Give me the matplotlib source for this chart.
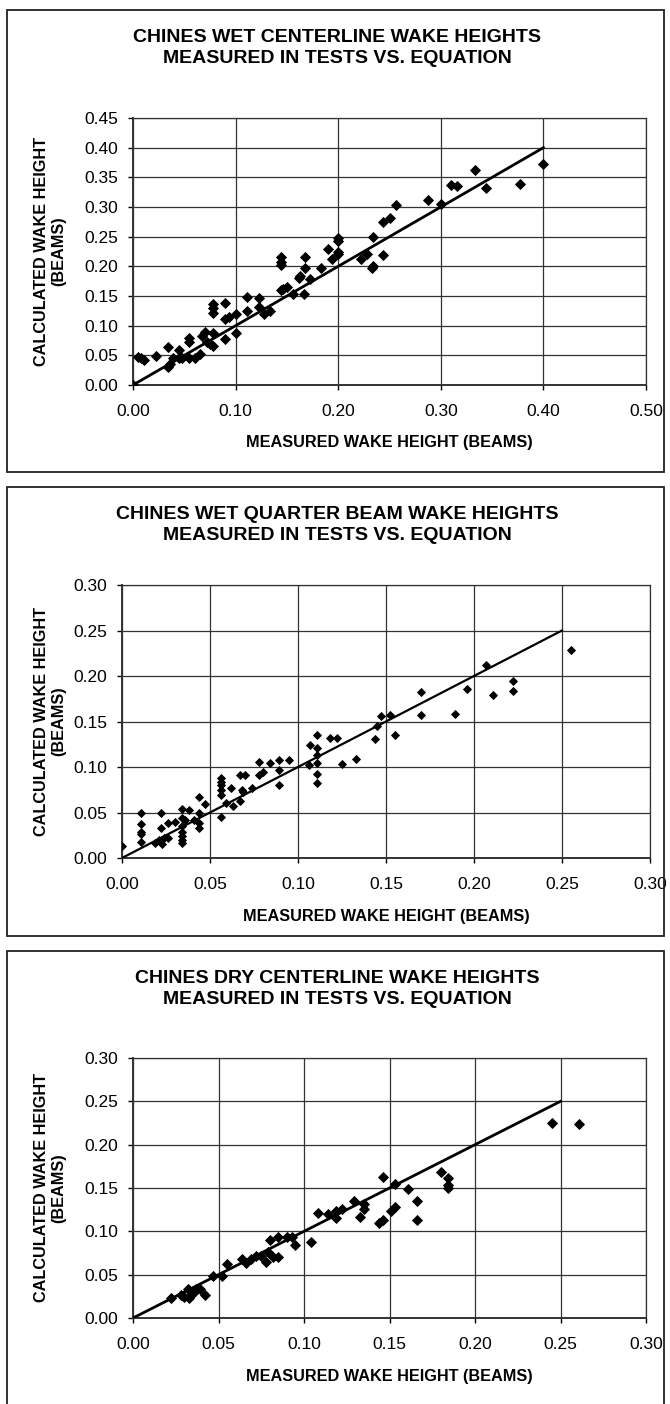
import matplotlib.pyplot as plt
from matplotlib.patches import Rectangle

plt.rcParams['font.family'] = ['Liberation Sans', 'DejaVu Sans']

# chines wet, centerline
wet_cl_x = [0.0, 0.005, 0.008, 0.011, 0.022, 0.034, 0.034, 0.036, 0.039, 0.045, 0.045,
            0.048, 0.055, 0.055, 0.055, 0.06, 0.065, 0.067, 0.07, 0.072, 0.075, 0.078,
            0.078, 0.078, 0.078, 0.078, 0.09, 0.09, 0.09, 0.094, 0.1, 0.1, 0.111, 0.111,
            0.123, 0.123, 0.128, 0.134, 0.144, 0.144, 0.144, 0.144, 0.146, 0.15, 0.156,
            0.162, 0.163, 0.167, 0.168, 0.168, 0.173, 0.183, 0.19, 0.194, 0.2, 0.2, 0.2,
            0.2, 0.222, 0.228, 0.233, 0.234, 0.234, 0.244, 0.244, 0.25, 0.256, 0.288,
            0.3, 0.31, 0.316, 0.333, 0.344, 0.377, 0.4]
wet_cl_y = [0.0, 0.048, 0.046, 0.042, 0.049, 0.064, 0.031, 0.035, 0.045, 0.059, 0.045,
            0.045, 0.045, 0.073, 0.079, 0.045, 0.053, 0.082, 0.089, 0.073, 0.069, 0.066,
            0.087, 0.129, 0.136, 0.122, 0.078, 0.139, 0.112, 0.114, 0.119, 0.087, 0.124,
            0.149, 0.147, 0.132, 0.119, 0.124, 0.16, 0.202, 0.208, 0.215, 0.162, 0.166,
            0.153, 0.18, 0.183, 0.153, 0.198, 0.215, 0.179, 0.197, 0.229, 0.213, 0.221,
            0.225, 0.242, 0.247, 0.213, 0.22, 0.197, 0.2, 0.25, 0.219, 0.274, 0.282,
            0.304, 0.311, 0.305, 0.337, 0.335, 0.362, 0.332, 0.339, 0.373]

# chines wet, quarter beam
wet_qb_x = [0.0, 0.011, 0.011, 0.011, 0.011, 0.011, 0.019, 0.021, 0.022, 0.022, 0.023,
            0.024, 0.026, 0.026, 0.03, 0.034, 0.034, 0.034, 0.034, 0.034, 0.034, 0.034,
            0.036, 0.038, 0.041, 0.044, 0.044, 0.044, 0.044, 0.047, 0.056, 0.056, 0.056,
            0.056, 0.056, 0.056, 0.059, 0.062, 0.063, 0.067, 0.067, 0.068, 0.069, 0.07,
            0.074, 0.078, 0.078, 0.08, 0.084, 0.089, 0.089, 0.089, 0.095, 0.106, 0.107,
            0.111, 0.111, 0.111, 0.111, 0.111, 0.111, 0.118, 0.122, 0.125, 0.133, 0.144,
            0.145, 0.147, 0.152, 0.155, 0.17, 0.17, 0.189, 0.196, 0.207, 0.211, 0.222,
            0.222, 0.255]
wet_qb_y = [0.013, 0.049, 0.037, 0.029, 0.026, 0.018, 0.016, 0.02, 0.049, 0.033, 0.015,
            0.022, 0.038, 0.022, 0.04, 0.054, 0.044, 0.035, 0.029, 0.024, 0.02, 0.016,
            0.042, 0.053, 0.042, 0.067, 0.049, 0.038, 0.033, 0.059, 0.088, 0.083, 0.08,
            0.075, 0.069, 0.045, 0.06, 0.077, 0.057, 0.091, 0.063, 0.075, 0.073, 0.091,
            0.077, 0.106, 0.091, 0.095, 0.104, 0.108, 0.097, 0.08, 0.108, 0.102, 0.124,
            0.135, 0.121, 0.113, 0.104, 0.092, 0.082, 0.132, 0.132, 0.103, 0.109, 0.131,
            0.145, 0.156, 0.157, 0.135, 0.182, 0.157, 0.158, 0.186, 0.212, 0.179, 0.194,
            0.184, 0.229]

# chines dry, centerline
dry_cl_x = [0.022, 0.028, 0.03, 0.032, 0.033, 0.034, 0.035, 0.036, 0.037, 0.039, 0.042,
            0.047, 0.052, 0.055, 0.064, 0.066, 0.069, 0.072, 0.075, 0.078, 0.079, 0.08,
            0.082, 0.085, 0.085, 0.09, 0.093, 0.095, 0.104, 0.108, 0.114, 0.119, 0.119,
            0.122, 0.129, 0.133, 0.135, 0.135, 0.144, 0.146, 0.146, 0.151, 0.153, 0.153,
            0.161, 0.166, 0.166, 0.18, 0.184, 0.184, 0.184, 0.245, 0.261]
dry_cl_y = [0.023, 0.026, 0.024, 0.033, 0.023, 0.027, 0.029, 0.031, 0.033, 0.034, 0.026,
            0.049, 0.049, 0.062, 0.068, 0.063, 0.068, 0.071, 0.072, 0.065, 0.076, 0.09,
            0.07, 0.07, 0.093, 0.093, 0.094, 0.084, 0.088, 0.121, 0.12, 0.115, 0.123,
            0.126, 0.135, 0.116, 0.126, 0.132, 0.11, 0.113, 0.163, 0.124, 0.128, 0.155,
            0.149, 0.135, 0.113, 0.168, 0.162, 0.153, 0.15, 0.225, 0.224]

# equation lines (calculated = measured)
eq1 = [0.0, 0.40]
eq2 = [0.0, 0.25]

W, H = 670, 1404
fig = plt.figure(figsize=(W / 100, H / 100), dpi=100)

def px(x0, y0, x1, y1):
    # pixel box -> figure fraction rect
    return [x0 / W, 1 - y1 / H, (x1 - x0) / W, (y1 - y0) / H]

def panel(box, axbox, title, xs, ys, eq, xmax, xstep, ymax, ms, lw):
    fig.patches.append(Rectangle((box[0] / W, 1 - box[3] / H), (box[2] - box[0]) / W,
                                 (box[3] - box[1]) / H, transform=fig.transFigure,
                                 fill=False, lw=1.3, ec='#222222'))
    ax = fig.add_axes(px(*axbox))
    ax.plot(eq, eq, color='black', lw=lw, zorder=3)
    ax.plot(xs, ys, 'D', color='black', ms=ms, mew=0.6, zorder=4)
    ax.set_xlim(0, xmax)
    ax.set_ylim(0, ymax)
    n = round(xmax / xstep)
    ax.set_xticks([i * xstep for i in range(n + 1)])
    ax.set_yticks([i * 0.05 for i in range(round(ymax / 0.05) + 1)])
    ax.xaxis.set_major_formatter('{x:.2f}')
    ax.yaxis.set_major_formatter('{x:.2f}')
    ax.tick_params(direction='out', length=3.6, width=1, labelsize=12.5)
    ax.tick_params(axis='x', pad=10)
    ax.tick_params(axis='y', pad=7)
    ax.grid(True, color='#333333', lw=0.9)
    for s in ax.spines.values():
        s.set_color('#333333')
        s.set_linewidth(0.9)
    ax.spines['bottom'].set_linewidth(1.4)
    ax.spines['left'].set_linewidth(1.4)
    fig.text(337 / W, 1 - (box[1] + 38) / H, title, ha='center', va='center',
             fontsize=14, fontweight='bold', linespacing=1.38)
    ax_cx = (axbox[0] + axbox[2]) / 2 / W
    fig.text(ax_cx, 1 - (axbox[3] + 58) / H, 'MEASURED WAKE HEIGHT (BEAMS)',
             ha='center', va='center', fontsize=11.7, fontweight='bold')
    fig.text(50 / W, 1 - (axbox[1] + axbox[3]) / 2 / H, 'CALCULATED WAKE HEIGHT\n(BEAMS)',
             ha='center', va='center', rotation=90, fontsize=11.7, fontweight='bold',
             linespacing=1.2)
    return ax

panel((7, 10, 664, 472), (133, 118, 646, 385),
      'CHINES WET CENTERLINE WAKE HEIGHTS\nMEASURED IN TESTS VS. EQUATION',
      wet_cl_x, wet_cl_y, eq1, 0.5, 0.1, 0.45, 4.8, 2.0)
panel((7, 487, 664, 936), (122, 585, 650, 858),
      'CHINES WET QUARTER BEAM WAKE HEIGHTS\nMEASURED IN TESTS VS. EQUATION',
      wet_qb_x, wet_qb_y, eq2, 0.3, 0.05, 0.30, 3.6, 1.6)
panel((7, 951, 664, 1420), (133, 1058, 646, 1318),
      'CHINES DRY CENTERLINE WAKE HEIGHTS\nMEASURED IN TESTS VS. EQUATION',
      dry_cl_x, dry_cl_y, eq2, 0.3, 0.05, 0.30, 4.8, 2.0)

fig.savefig('out.png', dpi=100)
